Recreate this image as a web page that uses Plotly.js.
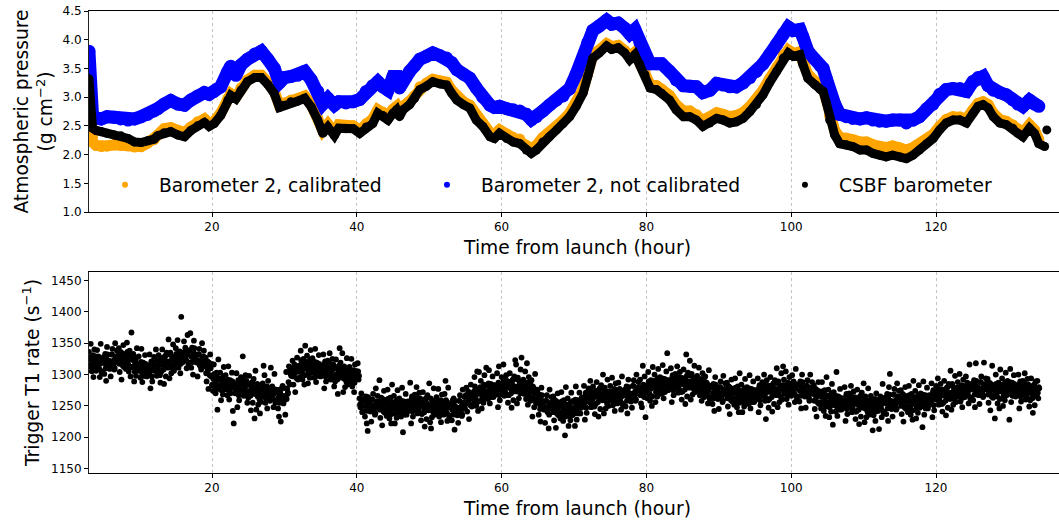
<!DOCTYPE html>
<html>
<head>
<meta charset="utf-8">
<script src="https://cdn.plot.ly/plotly-3.0.1.min.js"></script>
<style>
html, body { margin: 0; padding: 0; overflow: hidden; background: #ffffff; }
#chart { width: 1066px; height: 520px; }
</style>
</head>
<body>
<div id="chart"></div>
<script>
// ---- Top panel: atmospheric pressure (g cm^-2) vs time from launch (hour) ----
const hours = [3.0,3.15,3.3,3.5,4.0,4.7,5.5,6.5,7.4,8.4,
  9.3,10.2,11.1,12.0,12.5,13.4,14.3,15.3,16.2,17.1,
  18.0,18.95,19.6,20.3,21.2,22.2,22.6,23.3,24.0,24.9,
  25.9,26.8,27.7,28.6,29.3,30.0,30.9,31.8,32.8,33.7,
  34.6,35.3,36.0,36.9,37.5,38.5,39.5,40.4,41.3,42.2,
  42.9,43.6,44.3,45.0,45.5,45.9,46.4,47.3,48.0,48.7,
  49.6,50.5,51.5,52.4,53.1,53.8,54.7,55.6,56.5,57.4,
  58.4,59.0,59.7,60.7,61.6,62.5,63.4,64.1,64.8,65.7,
  66.6,67.6,68.5,69.4,70.3,71.25,71.9,72.6,73.5,74.5,
  75.2,76.1,77.0,77.7,78.4,79.1,79.8,80.5,81.4,82.1,
  83.2,84.1,85.1,86.0,86.9,87.8,88.75,89.7,90.6,91.5,
  92.4,93.35,94.3,95.2,96.1,97.0,98.0,98.9,99.6,100.3,
  101.2,101.6,102.3,103.25,104.0,104.4,104.85,105.3,106.0,106.7,
  107.6,108.5,109.5,110.4,111.3,112.2,113.1,114.0,115.0,115.9,
  116.8,117.7,118.7,119.6,120.5,121.4,122.35,123.3,124.2,125.1,
  125.8,126.5,127.2,127.9,128.8,129.7,130.6,131.3,132.0,132.9,
  133.6,134.2,135.0,135.15,135.3];

const csbfPressure = [3.32,2.95,2.60,2.46,2.42,2.40,2.37,2.34,2.33,2.28,
  2.22,2.21,2.24,2.27,2.33,2.38,2.40,2.34,2.31,2.42,
  2.50,2.56,2.49,2.54,2.68,2.95,3.03,2.97,3.12,3.27,
  3.34,3.34,3.22,3.06,2.82,2.86,2.92,2.93,2.98,2.83,
  2.60,2.37,2.48,2.33,2.46,2.45,2.45,2.37,2.48,2.54,
  2.72,2.68,2.60,2.72,2.78,2.66,2.78,2.87,2.98,3.13,
  3.19,3.27,3.23,3.21,3.07,2.95,2.87,2.81,2.60,2.49,
  2.31,2.28,2.37,2.28,2.22,2.19,2.08,2.02,2.08,2.22,
  2.31,2.43,2.54,2.66,2.84,3.07,3.36,3.68,3.77,3.89,
  3.83,3.86,3.77,3.65,3.74,3.57,3.39,3.16,3.13,3.07,
  2.95,2.78,2.66,2.66,2.60,2.49,2.55,2.63,2.60,2.55,
  2.57,2.63,2.75,2.87,3.04,3.25,3.45,3.68,3.77,3.71,
  3.74,3.57,3.33,3.22,3.13,3.10,2.90,2.60,2.34,2.19,
  2.17,2.14,2.08,2.08,2.02,1.99,1.96,1.99,1.96,1.93,
  1.99,2.08,2.19,2.28,2.43,2.55,2.60,2.60,2.55,2.72,
  2.84,2.87,2.81,2.66,2.55,2.52,2.46,2.37,2.31,2.46,
  2.37,2.19,2.14,null,2.43];

const baro2Calibrated = [3.40,2.75,2.35,2.22,2.16,2.14,2.15,2.17,2.16,2.15,
  2.13,2.14,2.20,2.26,2.34,2.45,2.47,2.42,2.38,2.48,
  2.57,2.62,2.54,2.58,2.72,2.98,3.06,3.00,3.16,3.30,
  3.38,3.38,3.26,3.10,2.86,2.90,2.95,2.97,3.02,2.87,
  2.64,2.42,2.53,2.38,2.52,2.50,2.50,2.43,2.54,2.62,
  2.78,2.74,2.67,2.79,2.84,2.72,2.84,2.93,3.03,3.18,
  3.24,3.31,3.28,3.26,3.12,3.00,2.92,2.86,2.66,2.55,
  2.38,2.35,2.43,2.36,2.30,2.27,2.16,2.10,2.16,2.30,
  2.38,2.49,2.60,2.72,2.90,3.14,3.42,3.74,3.82,3.93,
  3.88,3.90,3.81,3.70,3.78,3.62,3.44,3.22,3.20,3.14,
  3.03,2.87,2.76,2.76,2.70,2.60,2.66,2.73,2.70,2.66,
  2.68,2.73,2.84,2.95,3.12,3.32,3.52,3.74,3.82,3.76,
  3.79,3.62,3.40,3.28,3.20,3.16,2.96,2.68,2.42,2.30,
  2.29,2.26,2.22,2.22,2.17,2.14,2.12,2.15,2.12,2.08,
  2.12,2.18,2.27,2.35,2.49,2.61,2.66,2.66,2.62,2.78,
  2.89,2.92,2.87,2.72,2.61,2.58,2.52,2.45,2.38,2.52,
  2.43,2.26,null,null,null];

const baro2Raw = [3.80,3.30,2.85,2.68,2.64,2.62,2.66,2.65,2.62,2.60,
  2.62,2.66,2.70,2.76,2.80,2.88,2.94,2.88,2.86,2.95,
  3.02,3.08,3.05,3.10,3.18,3.45,3.54,3.38,3.56,3.66,
  3.75,3.80,3.66,3.50,3.25,3.34,3.36,3.38,3.45,3.30,
  3.10,2.88,2.98,2.86,2.92,2.90,2.92,2.96,3.10,3.20,
  3.27,3.18,3.12,3.36,3.36,3.16,3.30,3.45,3.55,3.66,
  3.71,3.77,3.72,3.68,3.60,3.48,3.40,3.33,3.16,3.00,
  2.86,2.82,2.84,2.80,2.78,2.76,2.70,2.61,2.66,2.76,
  2.86,2.95,3.02,3.15,3.40,3.68,3.95,4.16,4.24,4.34,
  4.27,4.29,4.20,4.10,4.18,3.95,3.72,3.58,3.58,3.58,
  3.45,3.30,3.20,3.19,3.18,3.08,3.12,3.24,3.21,3.18,
  3.18,3.25,3.34,3.45,3.58,3.74,3.92,4.10,4.22,4.16,
  4.18,4.05,3.80,3.66,3.55,3.50,3.32,3.10,2.88,2.70,
  2.66,2.63,2.62,2.64,2.60,2.58,2.58,2.60,2.60,2.55,
  2.60,2.66,2.80,2.88,3.05,3.13,3.15,3.15,3.10,3.27,
  3.34,3.36,3.20,3.12,3.08,3.04,2.95,2.88,2.84,2.95,
  2.88,2.84,null,null,null];

// ---- Bottom panel: trigger T1 rate (s^-1), one sample every 0.0625 h from 3.0 h ----
const rateStartHour = 3.0;
const rateStepHour = 0.0625;
const triggerT1Rate = [
  1336,1327,1313,1314,1349,1324,1305,1319,1326,1331,1296,1311,1340,1322,1319,1329,
  1306,1312,1339,1321,1314,1329,1327,1309,1296,1317,1349,1324,1303,1305,1324,1322,
  1327,1328,1301,1318,1333,1310,1290,1325,1344,1332,1314,1315,1322,1321,1309,1313,
  1297,1319,1332,1332,1341,1315,1314,1323,1308,1310,1350,1326,1321,1329,1338,1320,
  1328,1330,1342,1317,1304,1327,1336,1322,1292,1334,1333,1314,1347,1325,1312,1332,
  1318,1319,1309,1328,1351,1336,1330,1316,1305,1324,1338,1331,1297,1312,1367,1329,
  1312,1323,1333,1313,1289,1305,1319,1320,1298,1327,1342,1310,1306,1316,1329,1308,
  1316,1307,1295,1320,1341,1303,1288,1311,1319,1298,1306,1314,1331,1317,1298,1308,
  1297,1313,1310,1300,1302,1310,1332,1305,1278,1317,1321,1297,1289,1308,1315,1315,
  1328,1306,1311,1315,1340,1323,1298,1303,1304,1311,1331,1318,1322,1299,1287,1316,
  1305,1326,1340,1316,1326,1308,1285,1323,1329,1330,1297,1313,1335,1319,1321,1311,
  1356,1319,1294,1332,1335,1315,1302,1323,1327,1310,1348,1326,1306,1329,1315,1320,
  1342,1333,1319,1320,1355,1330,1311,1325,1332,1337,1302,1317,1392,1328,1325,1335,
  1320,1326,1353,1335,1328,1343,1341,1323,1310,1331,1363,1338,1317,1319,1338,1336,
  1366,1338,1311,1328,1343,1320,1300,1335,1354,1342,1324,1325,1332,1331,1319,1323,
  1297,1319,1332,1332,1341,1315,1314,1323,1308,1310,1350,1326,1321,1329,1338,1320,
  1313,1315,1327,1302,1289,1312,1321,1307,1277,1319,1318,1299,1332,1310,1297,1317,
  1283,1284,1274,1293,1316,1301,1295,1281,1270,1289,1303,1296,1244,1277,1324,1294,
  1282,1293,1303,1283,1259,1275,1289,1290,1268,1297,1312,1280,1276,1286,1299,1278,
  1288,1279,1267,1292,1313,1275,1260,1283,1291,1270,1278,1286,1303,1289,1242,1280,
  1222,1283,1280,1270,1272,1280,1302,1275,1248,1287,1291,1267,1259,1278,1285,1285,
  1296,1274,1279,1283,1329,1291,1266,1271,1272,1279,1299,1286,1290,1267,1255,1284,
  1263,1284,1298,1274,1284,1266,1243,1281,1287,1288,1255,1271,1293,1277,1230,1269,
  1306,1269,1244,1282,1285,1265,1252,1273,1277,1260,1238,1276,1256,1279,1265,1270,
  1286,1277,1314,1264,1299,1274,1255,1269,1276,1281,1246,1261,1290,1272,1269,1279,
  1258,1264,1311,1273,1266,1281,1279,1261,1248,1269,1301,1276,1255,1257,1276,1274,
  1272,1273,1246,1263,1233,1255,1276,1270,1225,1277,1259,1260,1282,1266,1254,1258,
  1260,1265,1236,1278,1304,1261,1277,1269,1271,1288,1313,1304,1284,1307,1301,1298,
  1308,1310,1322,1297,1284,1307,1316,1302,1272,1314,1313,1294,1327,1305,1292,1312,
  1305,1306,1296,1315,1338,1323,1317,1303,1292,1311,1325,1318,1284,1299,1346,1316,
  1309,1320,1330,1310,1286,1302,1316,1317,1295,1324,1339,1307,1303,1313,1326,1305,
  1316,1307,1295,1320,1341,1303,1288,1311,1319,1298,1306,1314,1331,1317,1298,1308,
  1297,1313,1310,1300,1302,1310,1332,1305,1278,1317,1321,1297,1289,1308,1315,1315,
  1322,1300,1305,1309,1334,1317,1292,1297,1298,1305,1325,1312,1316,1293,1281,1310,
  1289,1310,1324,1300,1310,1292,1269,1307,1313,1314,1342,1297,1319,1303,1305,1295,
  1334,1297,1272,1310,1313,1293,1280,1301,1305,1288,1326,1304,1284,1307,1293,1298,
  1312,1303,1289,1290,1325,1300,1281,1295,1302,1307,1272,1287,1316,1298,1295,1305,
  1305,1296,1318,1305,1292,1298,1262,1252,1248,1254,1270,1261,1240,1242,1258,1259,
  1259,1260,1233,1250,1265,1242,1222,1257,1210,1264,1246,1247,1254,1253,1241,1245,
  1225,1247,1260,1260,1269,1243,1242,1251,1236,1238,1278,1254,1249,1257,1266,1248,
  1255,1257,1291,1244,1231,1254,1263,1249,1219,1261,1260,1241,1274,1252,1239,1259,
  1243,1244,1234,1253,1276,1261,1255,1241,1230,1249,1263,1256,1222,1237,1284,1254,
  1245,1256,1266,1246,1222,1238,1252,1253,1231,1260,1275,1243,1239,1249,1262,1241,
  1254,1245,1233,1258,1279,1241,1208,1249,1257,1236,1244,1252,1269,1255,1236,1246,
  1241,1257,1254,1244,1246,1254,1287,1249,1222,1261,1265,1241,1233,1252,1259,1259,
  1268,1246,1251,1255,1280,1263,1238,1243,1244,1251,1271,1258,1262,1239,1227,1256,
  1237,1258,1272,1248,1258,1240,1217,1255,1261,1262,1229,1245,1267,1251,1253,1243,
  1286,1249,1224,1262,1214,1245,1232,1253,1257,1240,1278,1256,1236,1259,1245,1250,
  1264,1255,1241,1242,1277,1252,1233,1247,1254,1259,1224,1239,1268,1250,1247,1257,
  1236,1242,1269,1251,1290,1259,1257,1239,1226,1247,1279,1254,1233,1235,1254,1252,
  1253,1254,1227,1244,1259,1236,1262,1251,1212,1258,1240,1241,1248,1247,1235,1239,
  1223,1245,1258,1258,1267,1241,1240,1249,1234,1236,1276,1252,1247,1255,1264,1246,
  1265,1267,1279,1254,1241,1264,1273,1259,1229,1271,1270,1251,1284,1262,1249,1269,
  1263,1264,1254,1273,1296,1281,1275,1261,1250,1269,1305,1276,1242,1257,1304,1274,
  1269,1280,1290,1270,1246,1262,1276,1277,1255,1284,1299,1267,1263,1273,1311,1265,
  1282,1273,1261,1286,1307,1269,1254,1277,1285,1264,1272,1280,1297,1283,1264,1274,
  1267,1283,1280,1270,1272,1280,1302,1275,1248,1287,1313,1267,1259,1278,1285,1285,
  1296,1274,1279,1283,1316,1291,1266,1271,1272,1279,1299,1286,1290,1267,1255,1284,
  1267,1288,1302,1278,1288,1270,1247,1285,1291,1292,1259,1275,1297,1281,1323,1273,
  1316,1279,1254,1292,1295,1275,1262,1283,1287,1270,1308,1286,1327,1289,1275,1280,
  1292,1283,1269,1270,1305,1280,1261,1275,1318,1287,1252,1267,1296,1278,1275,1285,
  1258,1264,1291,1273,1233,1281,1279,1261,1248,1269,1301,1276,1255,1257,1276,1274,
  1262,1263,1236,1253,1268,1245,1225,1260,1279,1267,1249,1250,1257,1256,1244,1248,
  1223,1245,1258,1258,1267,1241,1240,1249,1214,1236,1276,1252,1247,1255,1264,1246,
  1251,1253,1265,1240,1227,1250,1259,1245,1215,1257,1256,1237,1270,1248,1235,1255,
  1239,1240,1230,1249,1272,1257,1251,1237,1226,1245,1259,1252,1203,1233,1280,1250,
  1241,1252,1262,1242,1218,1234,1248,1249,1227,1256,1271,1239,1235,1245,1258,1237,
  1256,1247,1218,1260,1281,1243,1228,1251,1259,1238,1246,1254,1271,1257,1238,1248,
  1247,1263,1260,1250,1252,1260,1282,1255,1228,1267,1271,1247,1239,1258,1265,1265,
  1278,1256,1261,1265,1290,1273,1248,1253,1254,1261,1281,1268,1272,1249,1237,1266,
  1253,1274,1288,1264,1274,1256,1233,1271,1277,1278,1245,1261,1283,1267,1269,1259,
  1300,1263,1238,1276,1279,1259,1246,1267,1271,1254,1292,1270,1250,1273,1259,1264,
  1282,1273,1259,1260,1295,1270,1251,1265,1272,1277,1242,1257,1286,1268,1265,1275,
  1254,1260,1287,1269,1262,1277,1275,1257,1244,1265,1297,1272,1251,1253,1272,1270,
  1275,1276,1249,1266,1281,1258,1238,1273,1292,1280,1262,1263,1270,1269,1257,1261,
  1247,1269,1282,1282,1291,1265,1264,1273,1258,1260,1300,1276,1271,1279,1288,1270,
  1278,1280,1292,1267,1254,1277,1248,1272,1314,1284,1283,1264,1297,1275,1232,1282,
  1271,1272,1262,1281,1304,1289,1283,1269,1258,1277,1291,1284,1250,1265,1312,1282,
  1279,1290,1300,1280,1256,1272,1286,1287,1265,1294,1309,1277,1273,1283,1296,1275,
  1290,1281,1269,1294,1315,1277,1262,1285,1293,1272,1280,1288,1305,1291,1334,1282,
  1275,1291,1288,1278,1280,1288,1310,1283,1256,1295,1299,1275,1267,1286,1293,1293,
  1301,1279,1284,1288,1313,1296,1271,1276,1277,1284,1304,1291,1295,1272,1260,1289,
  1273,1294,1308,1284,1294,1276,1253,1291,1332,1298,1265,1281,1303,1287,1289,1279,
  1322,1285,1260,1298,1301,1281,1268,1289,1293,1276,1314,1292,1272,1295,1281,1286,
  1298,1289,1275,1276,1311,1286,1267,1281,1288,1293,1258,1273,1302,1284,1281,1291,
  1264,1270,1297,1279,1272,1287,1285,1267,1254,1275,1307,1282,1261,1263,1282,1280,
  1279,1280,1253,1270,1285,1262,1242,1277,1296,1284,1266,1267,1274,1273,1261,1265,
  1245,1267,1280,1280,1289,1263,1262,1271,1256,1258,1298,1274,1269,1277,1286,1268,
  1273,1275,1287,1262,1249,1272,1281,1267,1237,1279,1278,1259,1292,1270,1257,1277,
  1261,1262,1252,1271,1294,1279,1273,1259,1248,1267,1281,1274,1240,1255,1302,1272,
  1263,1274,1284,1264,1240,1256,1270,1271,1249,1278,1293,1261,1257,1267,1280,1259,
  1274,1265,1253,1278,1299,1261,1246,1269,1277,1256,1264,1272,1289,1275,1256,1266,
  1259,1275,1272,1262,1264,1272,1294,1267,1240,1279,1283,1259,1251,1270,1277,1277,
  1288,1266,1271,1275,1300,1283,1258,1263,1229,1271,1291,1278,1282,1259,1247,1276,
  1261,1282,1296,1272,1282,1264,1241,1279,1285,1286,1253,1269,1291,1275,1277,1267,
  1310,1273,1248,1286,1289,1269,1256,1277,1281,1264,1302,1280,1260,1283,1313,1274,
  1292,1283,1269,1270,1305,1280,1261,1275,1282,1287,1252,1267,1296,1278,1275,1285,
  1266,1272,1299,1281,1274,1289,1287,1269,1256,1277,1309,1284,1263,1265,1284,1282,
  1283,1284,1257,1274,1289,1266,1246,1281,1300,1288,1270,1271,1278,1277,1265,1269,
  1247,1269,1282,1282,1291,1265,1264,1273,1258,1260,1300,1276,1271,1279,1288,1270,
  1269,1271,1283,1258,1245,1268,1277,1263,1233,1275,1274,1255,1288,1266,1253,1273,
  1255,1256,1246,1265,1288,1273,1267,1253,1242,1261,1275,1268,1234,1249,1296,1266,
  1255,1266,1276,1256,1232,1248,1262,1263,1241,1270,1285,1253,1220,1259,1272,1251,
  1262,1253,1241,1266,1304,1249,1234,1257,1265,1244,1252,1260,1277,1263,1244,1254,
  1245,1261,1258,1248,1250,1258,1280,1253,1226,1265,1269,1245,1237,1256,1263,1263,
  1270,1248,1253,1257,1282,1265,1240,1245,1246,1253,1273,1260,1264,1241,1229,1258,
  1241,1262,1276,1252,1262,1244,1221,1259,1265,1266,1233,1249,1271,1255,1257,1247,
  1286,1249,1224,1262,1265,1245,1232,1253,1257,1240,1278,1256,1236,1259,1245,1250,
  1266,1257,1243,1244,1211,1254,1235,1249,1256,1261,1226,1241,1270,1252,1249,1259,
  1242,1248,1213,1257,1250,1265,1263,1245,1232,1253,1285,1260,1239,1241,1260,1258,
  1263,1264,1237,1254,1269,1246,1226,1261,1280,1268,1301,1251,1258,1257,1245,1249,
  1233,1255,1268,1268,1277,1251,1250,1259,1244,1246,1286,1262,1257,1265,1274,1256,
  1261,1263,1275,1250,1237,1260,1269,1255,1225,1267,1266,1247,1280,1258,1245,1265,
  1249,1250,1240,1259,1282,1267,1261,1247,1236,1255,1269,1262,1228,1243,1290,1260,
  1253,1264,1274,1254,1230,1246,1260,1261,1239,1268,1283,1251,1247,1257,1270,1249,
  1264,1255,1216,1268,1289,1251,1236,1259,1267,1246,1254,1262,1279,1265,1246,1256,
  1251,1267,1264,1254,1256,1264,1286,1259,1232,1271,1275,1251,1243,1262,1269,1269,
  1282,1260,1265,1269,1294,1277,1252,1257,1258,1265,1285,1272,1276,1253,1241,1270,
  1255,1276,1290,1266,1276,1258,1235,1273,1279,1280,1247,1263,1285,1269,1271,1261,
  1306,1269,1244,1282,1285,1265,1252,1273,1277,1260,1298,1276,1256,1279,1265,1270,
  1288,1279,1265,1266,1301,1276,1257,1271,1278,1283,1248,1263,1292,1274,1271,1281,
  1264,1270,1297,1279,1272,1287,1285,1267,1254,1275,1316,1282,1261,1263,1282,1280,
  1285,1286,1259,1276,1291,1268,1248,1283,1318,1290,1272,1273,1280,1279,1267,1271,
  1253,1275,1288,1288,1297,1271,1270,1279,1264,1266,1319,1282,1277,1285,1294,1276,
  1279,1281,1293,1268,1255,1278,1287,1273,1243,1285,1284,1265,1314,1276,1263,1283,
  1267,1268,1230,1277,1300,1285,1279,1265,1254,1273,1287,1280,1246,1261,1308,1278,
  1273,1284,1294,1274,1250,1266,1280,1281,1259,1288,1303,1271,1267,1277,1290,1269,
  1284,1275,1228,1288,1309,1271,1256,1279,1287,1266,1274,1282,1299,1285,1266,1276,
  1265,1281,1278,1268,1270,1278,1300,1273,1246,1285,1289,1265,1257,1276,1283,1283,
  1290,1268,1273,1277,1302,1285,1260,1265,1266,1273,1293,1280,1284,1261,1249,1278,
  1259,1280,1294,1270,1280,1262,1239,1277,1283,1284,1251,1267,1289,1273,1275,1265,
  1290,1271,1262,1280,1278
];
const rateHours = triggerT1Rate.map((_, i) => rateStartHour + i * rateStepHour);

// ---- Labels and ticks ----
const seriesNames = ['Barometer 2, calibrated', 'Barometer 2, not calibrated', 'CSBF barometer'];
const seriesColors = ['#FFA500', '#0000FF', '#000000'];
const timeTicks = [20, 40, 60, 80, 100, 120];
const pressureTicks = [1.0, 1.5, 2.0, 2.5, 3.0, 3.5, 4.0, 4.5];
const rateTicks = [1150, 1200, 1250, 1300, 1350, 1400, 1450];
const xTitle = 'Time from launch (hour)';
const yTitleTop = 'Atmospheric pressure<br>(g cm<sup>\u22122</sup>)';
const yTitleBottom = 'Trigger T1 rate (s<sup>\u22121</sup>)';

const FONT = '"DejaVu Sans", Verdana, sans-serif';
const tickFont = { family: FONT, size: 12, color: '#000' };
const labelFont = { family: FONT, size: 18.7, color: '#000' };

const bandWidths = [11, 13, 9];
const pressureSeries = [baro2Calibrated, baro2Raw, csbfPressure];

const data = [];
pressureSeries.forEach((ys, k) => {
  data.push({
    type: 'scatter', mode: 'lines+markers', x: hours, y: ys,
    xaxis: 'x', yaxis: 'y', connectgaps: false, showlegend: false, hoverinfo: 'skip',
    line: { color: seriesColors[k], width: bandWidths[k] },
    marker: { color: seriesColors[k], size: bandWidths[k] }
  });
});
const legendIds = ['legend', 'legend2', 'legend3'];
seriesNames.forEach((nm, k) => {
  data.push({
    type: 'scatter', mode: 'markers', x: [null], y: [null], xaxis: 'x', yaxis: 'y',
    name: nm, legend: legendIds[k], showlegend: true,
    marker: { color: seriesColors[k], size: 6 }
  });
});
data.push({
  type: 'scatter', mode: 'markers', x: rateHours, y: triggerT1Rate,
  xaxis: 'x2', yaxis: 'y2', showlegend: false, hoverinfo: 'skip',
  marker: { color: '#000000', size: 5.8 }
});

function xAxis(anchor) {
  return {
    anchor: anchor, domain: [0, 1], range: [3.01, 137.95],
    tickmode: 'array', tickvals: timeTicks, ticktext: timeTicks.map(String),
    ticks: 'outside', ticklen: 4, tickwidth: 1, tickcolor: '#000',
    showline: true, linecolor: '#000', linewidth: 1, mirror: true,
    showgrid: true, gridcolor: '#c4c4c4', griddash: 'dot', gridwidth: 1,
    zeroline: false, tickfont: tickFont,
    title: { text: xTitle, font: labelFont, standoff: 7 }
  };
}
function yAxis(anchor, domain, range, ticks, fmt, title, standoff) {
  return {
    anchor: anchor, domain: domain, range: range,
    tickmode: 'array', tickvals: ticks, tickformat: fmt,
    ticks: 'outside', ticklen: 4, tickwidth: 1, tickcolor: '#000',
    showline: true, linecolor: '#222', linewidth: 1, mirror: false,
    showgrid: false, zeroline: false, tickfont: tickFont,
    title: { text: title, font: labelFont, standoff: standoff }
  };
}
function legendBox(x) {
  return {
    x: x, xref: 'paper', xanchor: 'left', y: 0.6234, yref: 'paper', yanchor: 'middle',
    orientation: 'h', bgcolor: 'rgba(0,0,0,0)', borderwidth: 0, itemwidth: 58,
    font: { family: FONT, size: 18.7, color: '#000' }
  };
}

const layout = {
  width: 1066, height: 520,
  margin: { l: 89, r: 0, t: 11, b: 47 },
  paper_bgcolor: '#ffffff', plot_bgcolor: '#ffffff',
  font: { family: FONT, color: '#000' },
  xaxis: xAxis('y'),
  yaxis: yAxis('x', [0.5649, 1], [1.0, 4.5], pressureTicks, '.1f', yTitleTop, 4),
  xaxis2: xAxis('y2'),
  yaxis2: yAxis('x2', [0, 0.4351], [1143, 1463.5], rateTicks, 'd', yTitleBottom, 6),
  legend: legendBox(0.00205),
  legend2: legendBox(0.3316),
  legend3: legendBox(0.698),
  hovermode: false
};

Plotly.newPlot('chart', data, layout, { displayModeBar: false, staticPlot: true });
</script>
</body>
</html>
